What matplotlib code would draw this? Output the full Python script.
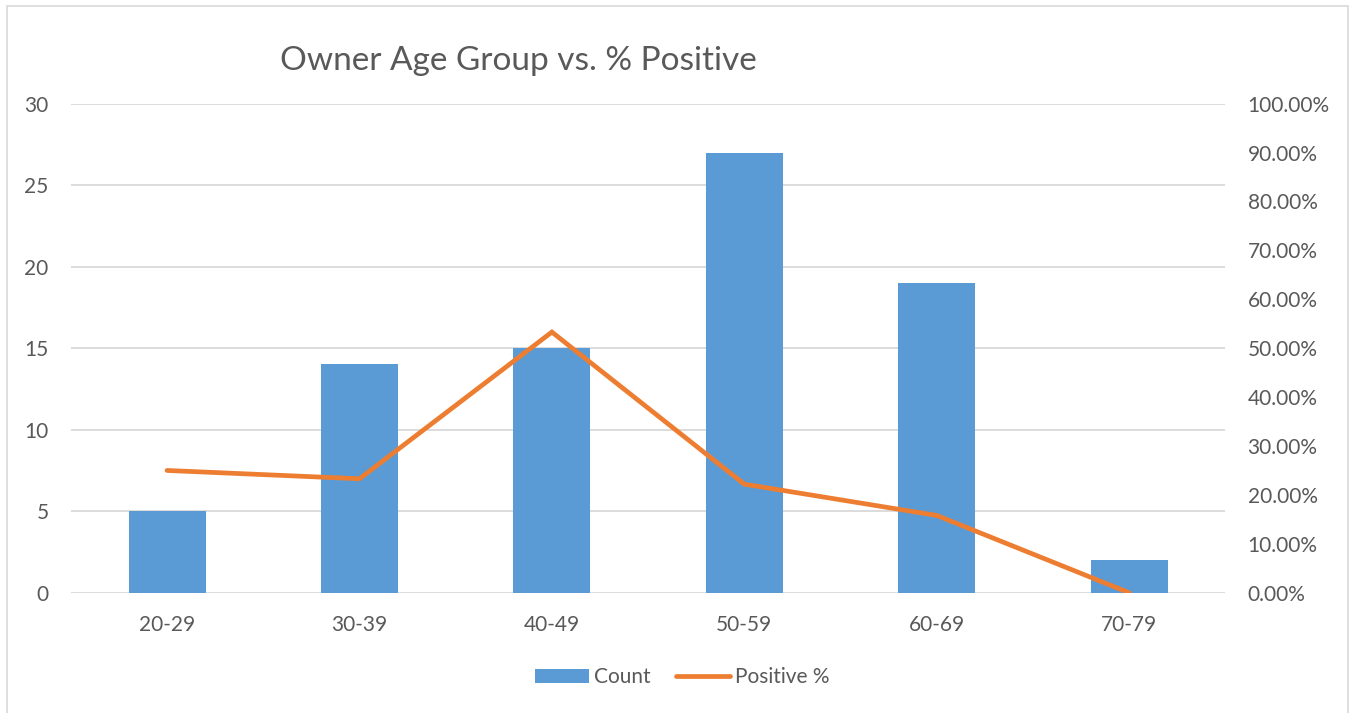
import matplotlib.pyplot as plt
import numpy as np
from matplotlib.lines import Line2D
from matplotlib.patches import Patch, Rectangle
from matplotlib.ticker import FuncFormatter

plt.rcParams["font.family"] = ["Lato", "DejaVu Sans"]

# ---- data --------------------------------------------------------------------
groups = ["20-29", "30-39", "40-49", "50-59", "60-69", "70-79"]
counts = [5, 14, 15, 27, 19, 2]
positive_pct = [0.25, 0.233, 0.533, 0.222, 0.158, 0.0]

BAR = "#5B9BD5"
LINE = "#ED7D31"
TXT = "#595959"
GRID = "#D9D9D9"

fig = plt.figure(figsize=(13.54, 7.13), dpi=100)
ax = fig.add_axes([0.0523, 0.1687, 0.8527, 0.6859])
ax2 = ax.twinx()

x = np.arange(len(groups))
ax.bar(x, counts, width=0.4, color=BAR, zorder=2)
ax2.plot(x, positive_pct, color=LINE, lw=3.4, solid_capstyle="round",
         solid_joinstyle="miter", zorder=3)

ax.set_xlim(-0.5, len(groups) - 0.5)
ax.set_ylim(0, 30)
ax.set_yticks(range(0, 31, 5))
ax2.set_ylim(0, 1)
ax2.set_yticks(np.arange(0, 1.01, 0.1))
ax2.yaxis.set_major_formatter(FuncFormatter(lambda v, _: f"{v * 100:.2f}%"))

ax.set_xticks(x)
ax.set_xticklabels(groups)
ax.grid(axis="y", color=GRID, lw=1.3, zorder=0)
ax.set_axisbelow(True)
for a in (ax, ax2):
    for s in a.spines.values():
        s.set_visible(False)
    a.tick_params(length=0, labelsize=15, labelcolor=TXT)
ax.tick_params(axis="y", pad=16)
ax.tick_params(axis="x", pad=16)
ax2.tick_params(axis="y", pad=16)
ax.set_zorder(ax2.get_zorder() - 1)
ax.patch.set_visible(False)
ax2.patch.set_visible(False)

fig.text(0.383, 0.914, "Owner Age Group vs. % Positive", fontsize=24,
         color=TXT, ha="center", va="center")

handles = [Patch(facecolor=BAR, label="Count"),
           Line2D([0], [0], color=LINE, lw=3.4, solid_capstyle="round",
                  label="Positive %")]
fig.legend(handles=handles, loc="center", bbox_to_anchor=(0.504, 0.05),
           ncol=2, frameon=False, fontsize=15, labelcolor=TXT,
           handlelength=2.6, handleheight=0.65, handletextpad=0.25,
           columnspacing=1.2)

# chart frame
fig.patches.append(Rectangle((6.5 / 1354, -0.02), (1348 - 6.5) / 1354,
                             1.02 - 5.5 / 713, transform=fig.transFigure,
                             fill=False, edgecolor=GRID, lw=1.2))

fig.savefig("out.png", dpi=100)
